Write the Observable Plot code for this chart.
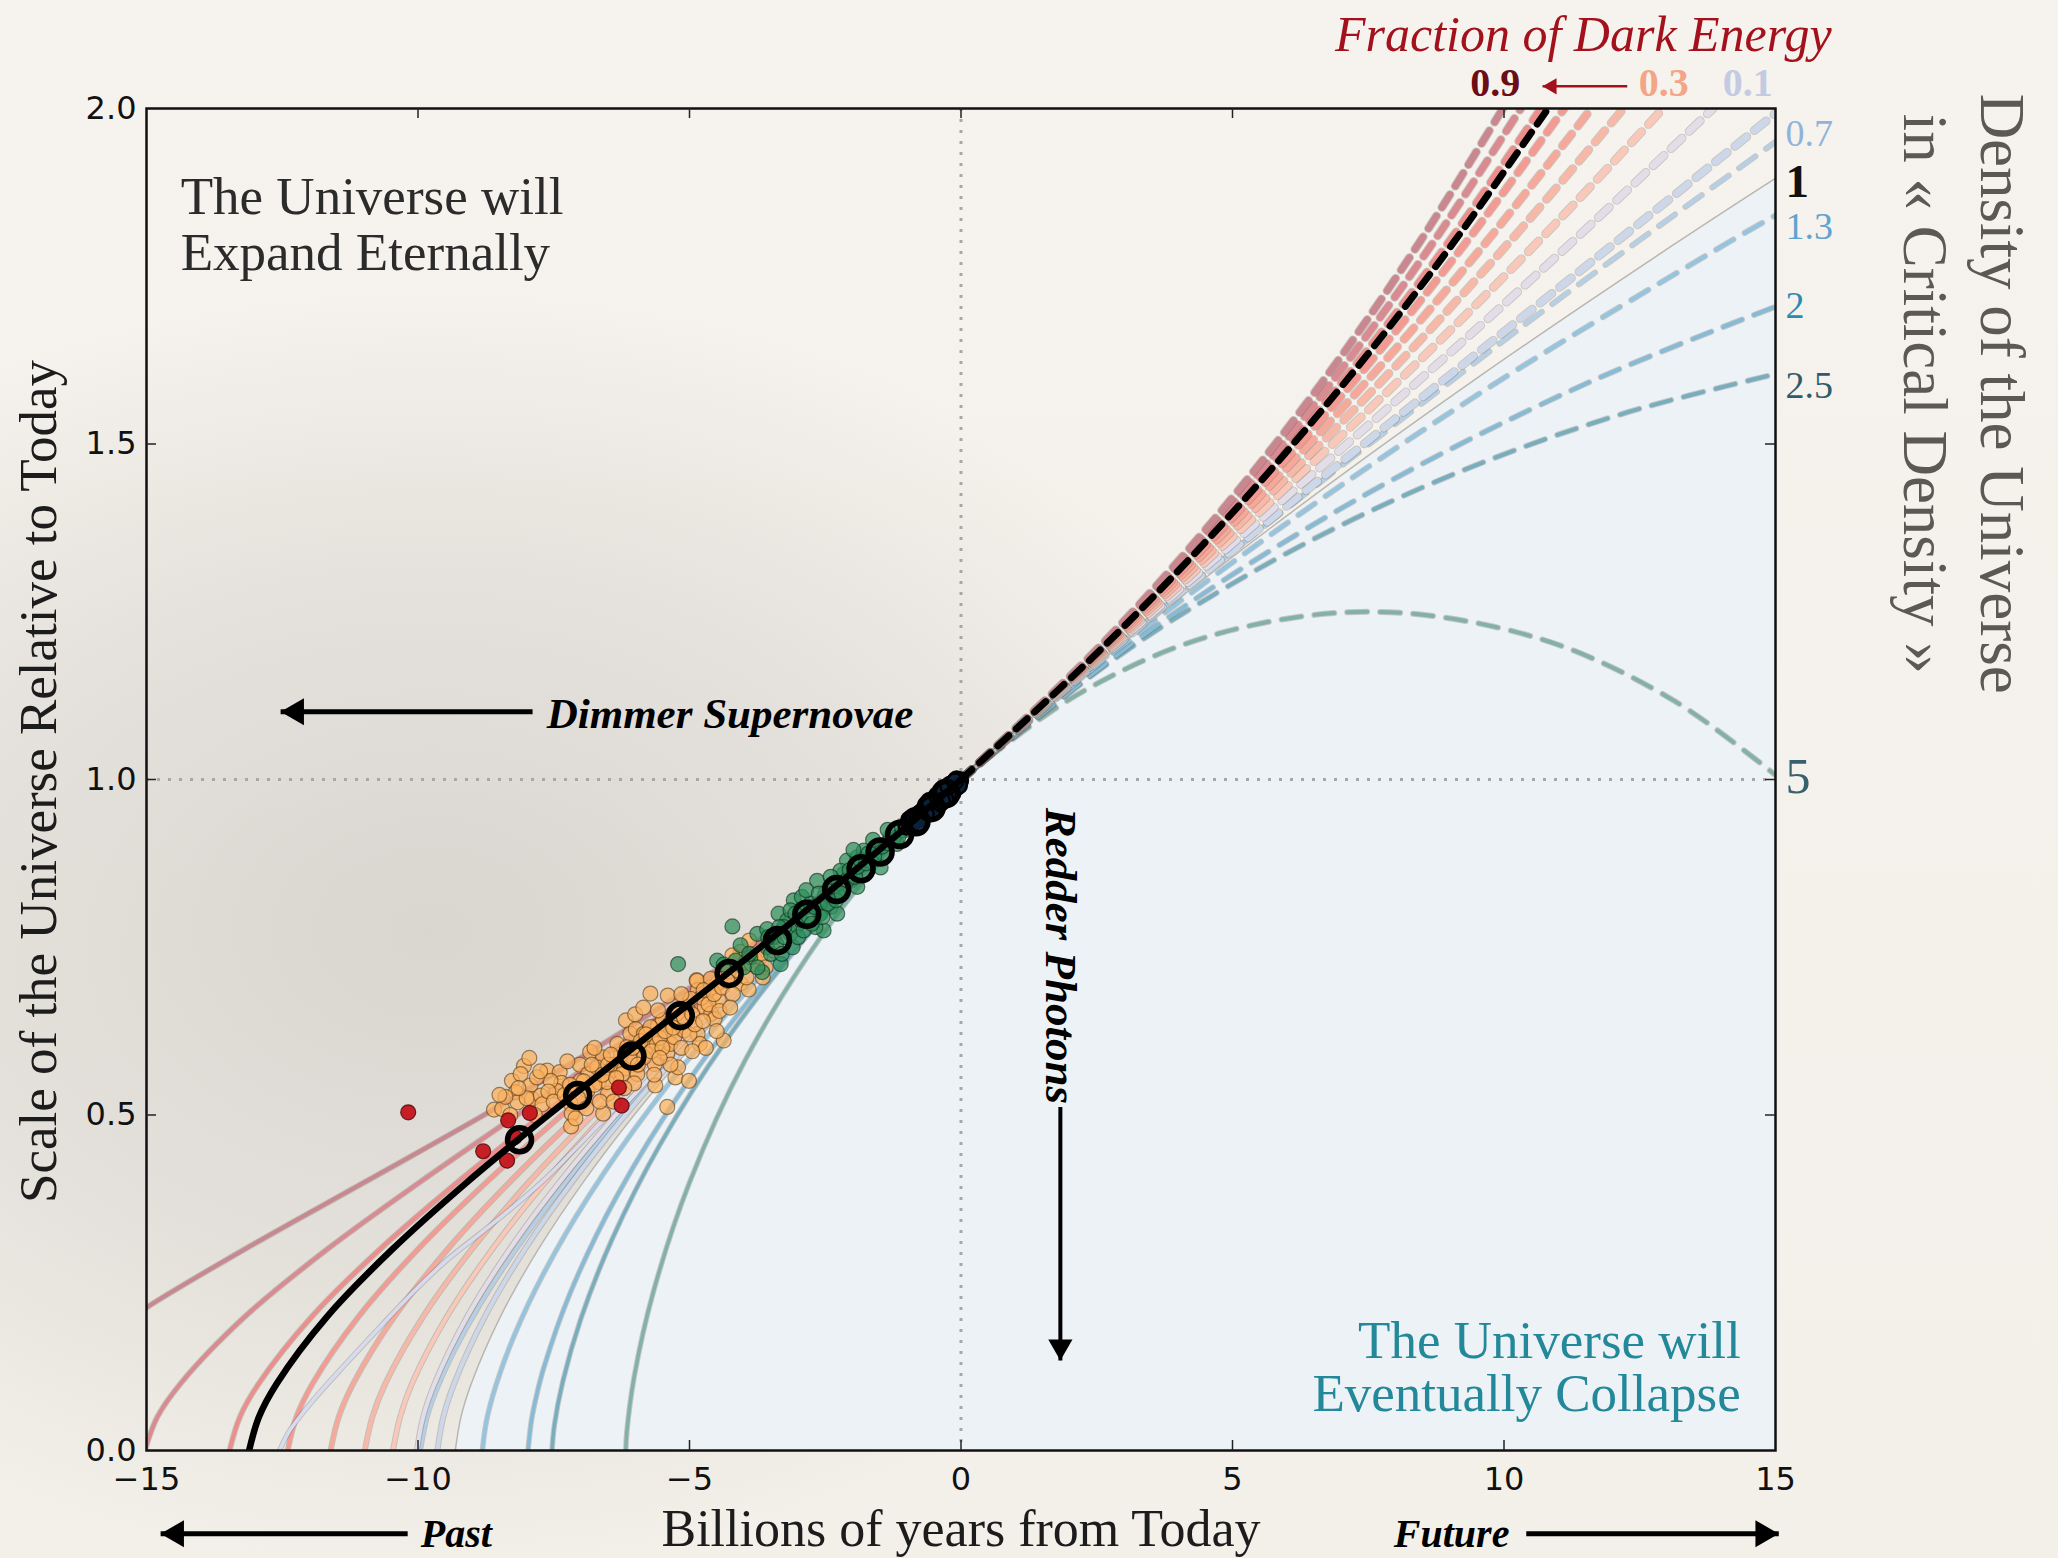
<!DOCTYPE html>
<html>
<head>
<meta charset="utf-8">
<script src="https://cdn.jsdelivr.net/npm/d3@7"></script>
<script src="https://cdn.jsdelivr.net/npm/@observablehq/plot@0.6"></script>
<style>
html, body { margin: 0; padding: 0; }
body {
  width: 2058px; height: 1558px; overflow: hidden;
  background:
    radial-gradient(ellipse 1150px 820px at 430px 930px, rgba(190,186,180,0.50) 0%, rgba(190,186,180,0.28) 45%, rgba(190,186,180,0) 78%),
    linear-gradient(180deg, #f6f3ee 0%, #f3f0ea 100%);
}
#chart svg { display: block; }
</style>
</head>
<body>
<div id="chart"></div>
<script>
// ---------------- DATA ----------------
const xTicks = [-15, -10, -5, 0, 5, 10, 15];
const yTicks = [0, 0.5, 1, 1.5, 2];

// scale factor grid (shared by the flat dark-energy family and the critical-density model)
const aPast = [0, 0.05, 0.1, 0.2, 0.3, 0.4, 0.5, 0.6, 0.7, 0.8, 0.9, 1];
const aFuture = [1, 1.2, 1.4, 1.6, 1.8, 2];

// fraction of dark energy family (flat), time in Gyr from today at each scale factor
const lambdaFractions = [0.9, 0.8, 0.7, 0.6, 0.5, 0.4, 0.3, 0.2, 0.1];
const lambdaPastT = [
  [-17.85, -17.52, -16.92, -15.25, -13.19, -10.98, -8.784, -6.712, -4.801, -3.054, -1.459, 0],
  [-15.03, -14.80, -14.37, -13.18, -11.67, -9.965, -8.175, -6.382, -4.645, -2.996, -1.447, 0],
  [-13.47, -13.28, -12.93, -11.95, -10.70, -9.267, -7.716, -6.113, -4.509, -2.942, -1.435, 0],
  [-12.40, -12.24, -11.94, -11.09, -10.00, -8.737, -7.349, -5.885, -4.388, -2.892, -1.424, 0],
  [-11.61, -11.46, -11.19, -10.43, -9.454, -8.311, -7.044, -5.689, -4.279, -2.845, -1.412, 0],
  [-10.98, -10.84, -10.60, -9.903, -9.008, -7.957, -6.784, -5.516, -4.180, -2.801, -1.402, 0],
  [-10.46, -10.33, -10.11, -9.464, -8.633, -7.656, -6.558, -5.362, -4.090, -2.760, -1.391, 0],
  [-10.02, -9.905, -9.692, -9.090, -8.312, -7.394, -6.358, -5.224, -4.007, -2.721, -1.381, 0],
  [-9.643, -9.534, -9.333, -8.766, -8.031, -7.163, -6.181, -5.099, -3.930, -2.684, -1.371, 0]
];
const lambdaFutureT = [
  [0, 2.577, 4.791, 6.725, 8.440, 9.979],
  [0, 2.608, 4.888, 6.899, 8.693, 10.31],
  [0, 2.641, 4.992, 7.091, 8.976, 10.68],
  [0, 2.675, 5.106, 7.305, 9.297, 11.11],
  [0, 2.712, 5.231, 7.545, 9.665, 11.61],
  [0, 2.750, 5.369, 7.819, 10.09, 12.20],
  [0, 2.791, 5.521, 8.135, 10.61, 12.93],
  [0, 2.834, 5.693, 8.508, 11.24, 13.85],
  [0, 2.880, 5.888, 8.962, 12.05, 15.11]
];

// best fit model (black)
const bestFitPastT = [-13.11, -12.93, -12.60, -11.67, -10.47, -9.094, -7.598, -6.041, -4.471, -2.927, -1.432, 0];
const bestFitFutureT = [0, 2.651, 5.026, 7.153, 9.068, 10.81];

// critical density (boundary of the shaded region)
const edsPastT = [-9.313, -9.209, -9.018, -8.480, -7.783, -6.957, -6.020, -4.985, -3.859, -2.649, -1.362, 0];
const edsFutureT = [0, 2.929, 6.114, 9.535, 13.18, 15];
const edsFutureA = [1, 1.2, 1.4, 1.6, 1.8, 1.896];

// lavender curve
const oddPastT = [-12.55, -12.36, -11.93, -11.32, -10.70, -10.09, -9.48, -8.86, -8.25, -7.63, -6.50, -5.30, -4.05, -2.74, -1.39, 0];
const oddPastA = [0, 0.03, 0.075, 0.13, 0.184, 0.236, 0.283, 0.323, 0.363, 0.407, 0.5, 0.6, 0.7, 0.8, 0.9, 1];

// matter-only models, density in units of critical density
const densityValues = [0.7, 1.3, 2, 2.5, 5];
const densityPastT = [
  [-9.959, -9.824, -9.639, -9.331, -8.868, -8.216, -7.337, -6.194, -4.746, -3.893, -1.901, 0],
  [-8.814, -8.741, -8.566, -8.229, -7.677, -6.860, -5.732, -4.247, -2.367, 0],
  [-7.974, -7.911, -7.826, -7.687, -7.195, -6.344, -5.057, -3.274, -1.586, 0],
  [-7.532, -7.489, -7.336, -7.002, -6.423, -5.547, -4.334, -2.756, -1.324, 0],
  [-6.174, -6.154, -6.020, -5.665, -5.004, -3.980, -2.567, -1.412, 0]
];
const densityPastA = [
  [0, 0.0529, 0.0946, 0.1489, 0.2164, 0.2977, 0.3937, 0.5053, 0.6336, 0.7044, 0.8603, 1],
  [0, 0.0432, 0.0968, 0.1710, 0.2652, 0.3784, 0.5095, 0.6571, 0.8198, 1],
  [0, 0.0447, 0.0789, 0.1224, 0.2352, 0.3784, 0.5464, 0.7325, 0.8795, 1],
  [0, 0.0372, 0.1020, 0.1960, 0.3153, 0.4553, 0.6104, 0.7744, 0.8993, 1],
  [0, 0.0279, 0.1092, 0.2365, 0.3985, 0.5808, 0.7670, 0.8851, 1]
];
const densityFutureT = [
  [0, 1.896, 5.047, 8.767, 10.81, 13.12, 15.06],
  [0, 2.724, 5.994, 9.778, 14.09, 15.0],
  [0, 3.567, 7.263, 11.47, 15.0],
  [0, 2.835, 4.949, 7.242, 9.694, 12.28, 15.0],
  [0, 2.127, 4.587, 7.541, 10.64, 13.09, 15.02]
];
const densityFutureA = [
  [1, 1.1327, 1.3427, 1.5778, 1.7038, 1.8404, 1.9537],
  [1, 1.1839, 1.3815, 1.5871, 1.7984, 1.8407],
  [1, 1.2272, 1.4161, 1.5885, 1.7046],
  [1, 1.1801, 1.2895, 1.3886, 1.4752, 1.5474, 1.6042],
  [1, 1.1257, 1.2139, 1.25, 1.2103, 1.1194, 1.0052]
];

// right-hand density labels: text and scale factor at x = 15
const densityLabels = ["0.7", "1", "1.3", "2", "2.5", "5"];
const densityLabelA = [1.962, 1.891, 1.824, 1.706, 1.586, 1.003];

// top dark energy labels
const fractionLabels = ["0.9", "0.3", "0.1"];
const fractionLabelT = [9.84, 12.94, 14.49];

// supernovae [time, scale]
const orangeSN = [
  [-8.60,0.508],[-8.45,0.509],[-8.27,0.551],[-8.05,0.573],[-8.11,0.561],[-8.20,0.534],[-8.17,0.519],[-7.93,0.544],
  [-7.90,0.524],[-7.74,0.529],[-7.71,0.516],[-7.62,0.566],[-7.39,0.564],[-7.36,0.548],[-7.45,0.536],[-7.19,0.517],
  [-7.17,0.502],[-7.18,0.483],[-7.02,0.575],[-6.87,0.561],[-6.83,0.594],[-6.67,0.549],[-6.59,0.586],[-6.59,0.502],
  [-6.50,0.532],[-6.45,0.566],[-6.39,0.575],[-6.26,0.590],[-6.20,0.569],[-6.17,0.641],[-6.09,0.621],[-5.99,0.628],
  [-5.96,0.561],[-6.02,0.547],[-5.84,0.621],[-5.79,0.601],[-5.72,0.681],[-5.69,0.611],[-5.64,0.576],[-5.63,0.544],
  [-5.58,0.633],[-5.49,0.641],[-5.58,0.656],[-5.40,0.678],[-5.41,0.591],[-5.35,0.606],[-5.28,0.616],[-5.26,0.556],
  [-5.21,0.571],[-5.41,0.512],[-5.10,0.626],[-5.01,0.551],[-4.87,0.701],[-4.85,0.621],[-4.81,0.606],[-4.85,0.686],
  [-4.72,0.660],[-4.78,0.675],[-4.60,0.651],[-4.54,0.643],[-4.46,0.671],[-4.37,0.611],[-4.28,0.714],[-4.06,0.696],
  [-3.91,0.687],[-3.78,0.730],[-5.60,0.606],[-6.33,0.606],[-5.93,0.599],[-5.84,0.586],[-6.24,0.561],[-6.70,0.571],
  [-6.88,0.536],[-7.56,0.551],[-7.81,0.556],[-8.39,0.527],[-5.23,0.651],[-5.04,0.661],[-5.35,0.638],[-5.72,0.631],
  [-6.15,0.601],[-6.52,0.549],[-7.01,0.551],[-4.61,0.690],[-4.49,0.696],[-4.98,0.673],[-4.86,0.700],[-4.61,0.703],
  [-4.74,0.686],[-4.06,0.743],[-3.94,0.730],[-4.21,0.738],
  [-7.60,0.535],[-7.50,0.520],[-7.30,0.530],[-7.20,0.545],[-7.05,0.525],[-6.95,0.550],[-6.80,0.575],[-6.75,0.545],
  [-6.60,0.560],[-6.50,0.575],[-6.45,0.590],[-6.35,0.555],[-6.10,0.585],[-6.05,0.600],[-5.95,0.575],[-5.90,0.610],
  [-5.80,0.620],[-5.70,0.595],[-5.55,0.615],[-5.50,0.600],[-5.45,0.625],[-5.30,0.630],[-5.15,0.600],[-5.10,0.645],
  [-5.00,0.620],[-4.95,0.650],[-4.90,0.635],[-4.75,0.640],[-4.65,0.665],[-4.55,0.680],[-4.45,0.655],[-4.40,0.690],
  [-4.30,0.700],[-4.20,0.680],[-4.10,0.715],[-3.95,0.705],[-3.85,0.725],[-3.70,0.735],[-3.60,0.720],[-3.45,0.745],
  [-7.85,0.500],[-8.00,0.525],[-8.15,0.540],[-7.75,0.565],[-6.90,0.510],[-6.65,0.520],[-6.20,0.540],[-5.65,0.560],
  [-5.35,0.575],[-4.70,0.600],
  [-8.50,0.530],[-8.30,0.500],[-7.95,0.585],[-7.25,0.580],[-7.10,0.495],[-6.75,0.600],[-6.40,0.520],[-6.00,0.650],
  [-5.85,0.660],[-5.55,0.585],[-5.15,0.680],[-4.95,0.595],[-4.50,0.625],[-4.25,0.660],[-3.90,0.760],[-3.65,0.705]
];
const greenSN = [
  [-4.21,0.781],[-4.06,0.753],[-4.49,0.730],[-4.37,0.724],[-3.66,0.713],[-3.32,0.725],[-3.75,0.770],[-3.57,0.777],
  [-3.36,0.800],[-3.20,0.790],[-3.14,0.770],[-3.02,0.782],[-3.08,0.820],[-2.93,0.825],[-2.65,0.849],[-2.83,0.810],
  [-2.53,0.775],[-2.68,0.780],[-2.59,0.800],[-2.40,0.810],[-2.28,0.800],[-2.47,0.827],[-2.16,0.859],[-2.03,0.849],
  [-2.10,0.879],[-1.91,0.884],[-1.79,0.859],[-1.67,0.879],[-1.54,0.899],[-1.42,0.889],[-1.30,0.914],[-1.18,0.904],
  [-1.05,0.924],[-3.57,0.750],[-3.45,0.765],[-3.88,0.735],[-2.96,0.805],[-2.77,0.815],[-3.14,0.805],[-3.26,0.780],
  [-2.28,0.830],[-1.91,0.840],[-2.22,0.864],[-1.79,0.894],[-1.48,0.869],[-5.21,0.725],
  [-3.50,0.740],[-3.40,0.755],[-3.30,0.740],[-3.25,0.765],[-3.10,0.750],[-3.00,0.765],[-2.95,0.790],[-2.90,0.775],
  [-2.80,0.795],[-2.75,0.785],[-2.70,0.810],[-2.60,0.815],[-2.55,0.795],[-2.50,0.830],[-2.45,0.815],[-2.35,0.840],
  [-2.30,0.820],[-2.25,0.845],[-2.20,0.830],[-2.10,0.850],[-2.05,0.865],[-1.95,0.855],[-1.90,0.870],[-1.85,0.880],
  [-1.75,0.875],[-1.70,0.890],[-1.60,0.885],[-1.55,0.900],[-1.45,0.900],[-1.35,0.905],[-1.25,0.910],[-1.15,0.915],
  [-1.10,0.930],[-0.95,0.930],[-3.75,0.720],[-3.90,0.740],[-4.00,0.720],[-4.15,0.730],[-3.55,0.765],[-3.35,0.780],
  [-3.05,0.800],[-2.85,0.835],[-2.40,0.855],[-2.62,0.830],[-1.98,0.895],[-1.62,0.910],[-1.35,0.925]
];
const redSN = [
  [-10.18,0.504],[-8.80,0.446],[-8.36,0.432],[-8.34,0.492],[-8.22,0.467],[-7.94,0.503],[-6.30,0.541],[-6.25,0.514]
];
const lowZSN = [
  [-1.00,0.930],[-0.95,0.940],[-0.90,0.935],[-0.85,0.945],[-0.80,0.940],[-0.75,0.950],[-0.70,0.945],[-0.68,0.955],
  [-0.62,0.955],[-0.60,0.960],[-0.55,0.958],[-0.52,0.966],[-0.48,0.962],[-0.45,0.970],[-0.42,0.968],[-0.40,0.974],
  [-0.36,0.972],[-0.33,0.978],[-0.30,0.976],[-0.27,0.982],[-0.24,0.980],[-0.21,0.986],[-0.18,0.984],[-0.15,0.990],
  [-0.12,0.990],[-0.10,0.994],[-0.07,0.993],[-0.05,0.997],[-0.03,0.996],[-0.02,0.999],[-0.50,0.955],[-0.38,0.965],
  [-0.26,0.975],[-0.14,0.985],[-0.65,0.948],[-0.78,0.935],[-0.58,0.968],[-0.44,0.976],[-0.32,0.984],[-0.20,0.992],
  [-0.09,0.988],[-0.16,0.980],[-0.29,0.970],[-0.08,1.000],[-0.04,0.991],[-0.23,0.990],[-0.35,0.968],[-0.11,0.997]
];
const binnedSN = [
  [-8.13,0.463],[-7.06,0.529],[-6.06,0.588],[-5.17,0.648],[-4.27,0.711],[-3.38,0.760],[-2.84,0.799],
  [-2.29,0.836],[-1.84,0.867],[-1.49,0.892],[-1.13,0.918],[-0.83,0.937],[-0.55,0.958],[-0.28,0.979]
];

// ---------------- STYLE ----------------
const W = 2058, H = 1558;
const M = {top: 108, right: 283, bottom: 108, left: 146};
const innerW = W - M.left - M.right, innerH = H - M.top - M.bottom;
const tPerPx = 30 / innerW, aPerPx = 2 / innerH;
const serif = "'Liberation Serif','Times New Roman',serif";

const lambdaColors = ["#c98890", "#d98b91", "#ec8e8c", "#f39b93", "#f6a99a", "#f8b8a7", "#fac8b8", "#e3dde9", "#cdd7ea"];
const densityColors = ["#b4cfe6", "#95c4df", "#86bad5", "#78adbd", "#84b1a6"];
const densityLabelColors = ["#8fb3da", "#111111", "#5ea4cf", "#2a8bb0", "#2f5c68", "#37626d"];
const fractionLabelColors = ["#6b0d17", "#f4a587", "#c3cbe2"];

function rows(ts, as) { return ts.map((t, i) => ({t, a: as[i]})); }
function curveMarks(data, color, width, dash) {
  return [
    Plot.line(data, {x: "t", y: "a", stroke: "#5b5650", strokeOpacity: 0.28, strokeWidth: width + 2, strokeDasharray: dash, curve: "catmull-rom", clip: true}),
    Plot.line(data, {x: "t", y: "a", stroke: color, strokeWidth: width, strokeDasharray: dash, curve: "catmull-rom", clip: true})
  ];
}
function arrow(x1, y1, x2, y2, dir, color, width, r) {
  const off = 1.555 * r;
  const rot = {left: -90, right: 90, down: 180, up: 0}[dir];
  const dx = dir === "left" ? off : dir === "right" ? -off : 0;
  const dy = dir === "down" ? -off : dir === "up" ? off : 0;
  return [
    Plot.link([0], {x1: () => x1, y1: () => y1, x2: () => x2, y2: () => y2, stroke: color, strokeWidth: width}),
    Plot.dot([0], {x: () => x2, y: () => y2, symbol: "triangle", r, fill: color, stroke: "none", rotate: rot, dx, dy})
  ];
}

const marks = [];

// shaded "collapse" region
const edsAll = rows(edsPastT.concat(edsFutureT.slice(1)), aPast.concat(edsFutureA.slice(1)));
marks.push(Plot.areaY(edsAll, {x: "t", y1: 0, y2: "a", fill: "#edf2f6", curve: "catmull-rom"}));

// dotted reference lines
marks.push(Plot.ruleY([1], {stroke: "#a9a7a3", strokeWidth: 3, strokeDasharray: "3,8"}));
marks.push(Plot.ruleX([0], {stroke: "#a9a7a3", strokeWidth: 3, strokeDasharray: "3,8"}));

// past (solid) curves
for (let i = densityValues.length - 1; i >= 0; i--) {
  marks.push(...curveMarks(rows(densityPastT[i], densityPastA[i]), densityColors[i], 3.5));
}
for (let i = lambdaFractions.length - 1; i >= 0; i--) {
  marks.push(...curveMarks(rows(lambdaPastT[i], aPast), lambdaColors[i], 4));
  if (i === 3) marks.push(...curveMarks(rows(oddPastT, oddPastA), "#d6dbef", 3.5));
}
// future (dashed) curves
for (let i = densityValues.length - 1; i >= 0; i--) {
  marks.push(...curveMarks(rows(densityFutureT[i], densityFutureA[i]), densityColors[i], 4, "20,13"));
}
for (let i = lambdaFractions.length - 1; i >= 0; i--) {
  marks.push(...curveMarks(rows(lambdaFutureT[i], aFuture), lambdaColors[i], 7, "15,10"));
}
// critical density boundary
marks.push(Plot.line(edsAll, {x: "t", y: "a", stroke: "#b9b6ae", strokeWidth: 1.5, curve: "catmull-rom", clip: true}));

// supernovae
marks.push(Plot.dot(orangeSN, {x: d => d[0], y: d => d[1], r: 7.5, fill: "#fbb05c", fillOpacity: 0.72, stroke: "#4a3214", strokeOpacity: 0.55, strokeWidth: 1.2}));
marks.push(Plot.dot(greenSN, {x: d => d[0], y: d => d[1], r: 7.5, fill: "#2e8f5c", fillOpacity: 0.72, stroke: "#0d2b1a", strokeOpacity: 0.6, strokeWidth: 1.2}));
marks.push(Plot.dot(redSN, {x: d => d[0], y: d => d[1], r: 7.5, fill: "#c4141c", fillOpacity: 0.95, stroke: "#4a0808", strokeOpacity: 0.8, strokeWidth: 1.2}));
marks.push(Plot.dot(lowZSN, {x: d => d[0], y: d => d[1], r: 8, fill: "#0c2442", fillOpacity: 0.85, stroke: "#000", strokeWidth: 2.5}));

// best fit
marks.push(Plot.line(rows(bestFitPastT, aPast), {x: "t", y: "a", stroke: "#000", strokeWidth: 6.5, curve: "catmull-rom", clip: true}));
marks.push(Plot.line(rows(bestFitFutureT, aFuture), {x: "t", y: "a", stroke: "#000", strokeWidth: 7, strokeDasharray: "15,10", curve: "catmull-rom", clip: true}));
marks.push(Plot.dot(binnedSN, {x: d => d[0], y: d => d[1], r: 12, fill: "none", stroke: "#000", strokeWidth: 5.5}));

// frame, ticks, tick labels
marks.push(Plot.frame({stroke: "#111", strokeWidth: 2.5}));
marks.push(Plot.ruleX(xTicks.slice(1, -1), {x: d => d, y1: 0, y2: 10 * aPerPx, stroke: "#222", strokeWidth: 1.5}));
marks.push(Plot.ruleX(xTicks.slice(1, -1), {x: d => d, y1: 2 - 10 * aPerPx, y2: 2, stroke: "#222", strokeWidth: 1.5}));
marks.push(Plot.ruleY(yTicks.slice(1, -1), {y: d => d, x1: -15, x2: -15 + 10 * tPerPx, stroke: "#222", strokeWidth: 1.5}));
marks.push(Plot.ruleY(yTicks.slice(1, -1), {y: d => d, x1: 15 - 10 * tPerPx, x2: 15, stroke: "#222", strokeWidth: 1.5}));
marks.push(Plot.axisX({ticks: xTicks, tickSize: 0, tickPadding: 17, label: null,
  tickFormat: d => d < 0 ? "\u2212" + Math.abs(d) : String(d), fontSize: 32, fill: "#111"}));
marks.push(Plot.axisY({ticks: yTicks, tickSize: 0, tickPadding: 10, label: null,
  tickFormat: d => d.toFixed(1), fontSize: 32, fill: "#111"}));

// axis titles
marks.push(Plot.text(["Scale of the Universe Relative to Today"], {x: () => -16.97, y: () => 0.997, text: d => d, rotate: -90, fontFamily: serif, fontSize: 53, fill: "#1c1c1c"}));
marks.push(Plot.text(["Billions of years from Today"], {x: () => 0, y: () => -0.118, text: d => d, fontFamily: serif, fontSize: 52, fill: "#1c1c1c"}));

// region captions
marks.push(Plot.text(["The Universe will\nExpand Eternally"], {x: () => -14.37, y: () => 1.828, text: d => d, textAnchor: "start", lineAnchor: "middle", lineHeight: 1.06, fontFamily: serif, fontSize: 53, fill: "#2b2b2b"}));
marks.push(Plot.text(["The Universe will\nEventually Collapse"], {x: () => 14.36, y: () => 0.123, text: d => d, textAnchor: "end", lineAnchor: "middle", lineHeight: 1.0, fontFamily: serif, fontSize: 53, fill: "#23889a"}));

// annotations with arrows
marks.push(...arrow(-7.89, 1.101, -12.53, 1.101, "left", "#000", 5, 10));
marks.push(Plot.text(["Dimmer Supernovae"], {x: () => -7.63, y: () => 1.098, text: d => d, textAnchor: "start", fontFamily: serif, fontStyle: "italic", fontWeight: "bold", fontSize: 43, fill: "#000"}));
marks.push(Plot.text(["Redder Photons"], {x: () => 1.83, y: () => 0.958, text: d => d, textAnchor: "start", rotate: 90, fontFamily: serif, fontStyle: "italic", fontWeight: "bold", fontSize: 45, fill: "#000"}));
marks.push(...arrow(1.83, 0.512, 1.83, 0.134, "down", "#000", 4, 9));
marks.push(...arrow(-10.19, -0.124, -14.74, -0.124, "left", "#000", 5, 10));
marks.push(Plot.text(["Past"], {x: () => -9.95, y: () => -0.124, text: d => d, textAnchor: "start", fontFamily: serif, fontStyle: "italic", fontWeight: "bold", fontSize: 40, fill: "#000"}));
marks.push(...arrow(10.41, -0.124, 15.06, -0.124, "right", "#000", 5, 10));
marks.push(Plot.text(["Future"], {x: () => 10.10, y: () => -0.124, text: d => d, textAnchor: "end", fontFamily: serif, fontStyle: "italic", fontWeight: "bold", fontSize: 40, fill: "#000"}));

// dark energy title and labels
marks.push(Plot.text(["Fraction of Dark Energy"], {x: () => 11.46, y: () => 2.110, text: d => d, fontFamily: serif, fontStyle: "italic", fontSize: 50, fill: "#a3121c"}));
marks.push(Plot.text(fractionLabels, {x: (d, i) => fractionLabelT[i], y: () => 2.037, text: d => d, fontFamily: serif, fontWeight: "bold", fontSize: 40, fill: (d, i) => fractionLabelColors[i]}));
marks.push(...arrow(12.27, 2.033, 10.71, 2.033, "left", "#a3121c", 2.5, 6));

// density labels on the right
densityLabels.forEach((lab, i) => {
  const size = lab === "1" ? 47 : lab === "5" ? 50 : 38;
  marks.push(Plot.text([lab], {x: () => 15, y: () => densityLabelA[i], dx: 10, text: d => d, textAnchor: "start", fontFamily: serif, fontWeight: lab === "1" ? "bold" : "normal", fontSize: size, fill: densityLabelColors[i]}));
});
marks.push(Plot.text(["Density of the Universe"], {x: () => 19.16, y: () => 1.575, text: d => d, rotate: 90, fontFamily: serif, fontSize: 63, fill: "#5b5954"}));
marks.push(Plot.text(["in \u00ab Critical Density \u00bb"], {x: () => 17.73, y: () => 1.575, text: d => d, rotate: 90, fontFamily: serif, fontSize: 63, fill: "#5b5954"}));

const chart = Plot.plot({
  width: W, height: H,
  marginTop: M.top, marginRight: M.right, marginBottom: M.bottom, marginLeft: M.left,
  x: {domain: [-15, 15]},
  y: {domain: [0, 2]},
  style: {fontFamily: "'DejaVu Sans', sans-serif", fontSize: "32px", background: "transparent", overflow: "visible", color: "#111"},
  marks
});
document.getElementById("chart").appendChild(chart);
</script>
</body>
</html>
